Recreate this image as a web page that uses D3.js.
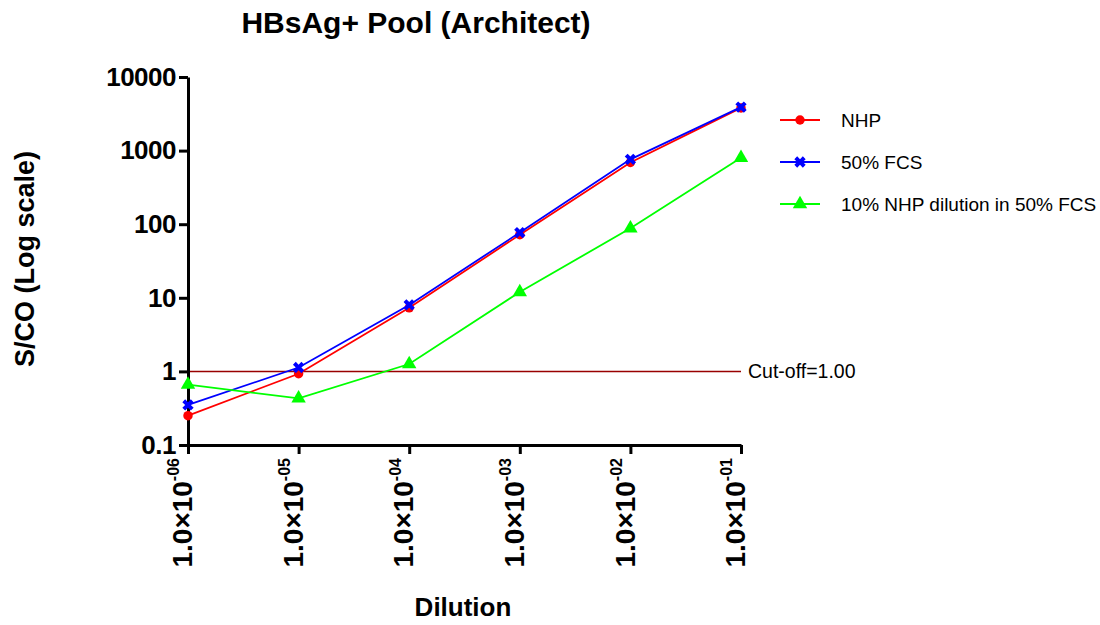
<!DOCTYPE html>
<html>
<head>
<meta charset="utf-8">
<script src="https://cdn.jsdelivr.net/npm/d3@7"></script>
<style>
  body { margin: 0; background: #fff; }
  text { font-family: Arial, "Liberation Sans", sans-serif; }
</style>
</head>
<body>
<svg id="chart"></svg>
<script>
// Dilutions on the x axis
const dilutions = [1e-6, 1e-5, 1e-4, 1e-3, 1e-2, 1e-1];
const dilutionExponents = ["-06", "-05", "-04", "-03", "-02", "-01"];

// S/CO values
const nhpValues = [0.25, 0.93, 7.3, 72, 690, 3800];
const fcsValues = [0.35, 1.13, 8.0, 77, 760, 3900];
const mixValues = [0.66, 0.43, 1.26, 12, 88, 800];

const seriesNames = ["NHP", "50% FCS", "10% NHP dilution in 50% FCS"];
const seriesColors = ["#ff0000", "#0000ff", "#00ff00"];

const yTicks = [0.1, 1, 10, 100, 1000, 10000];
const cutOff = 1.0;

const dims = {
  width: 1100,
  height: 625,
  left: 188,
  right: 741,
  top: 77,
  bottom: 445
};

const svg = d3.select("#chart")
    .attr("width", dims.width)
    .attr("height", dims.height);

const x = d3.scaleLog()
    .domain(d3.extent(dilutions))
    .range([dims.left, dims.right]);

const y = d3.scaleLog()
    .domain([0.1, 10000])
    .range([dims.bottom, dims.top]);

// Cut-off line
svg.append("line")
    .attr("x1", x(dilutions[0]))
    .attr("x2", x(dilutions[dilutions.length - 1]))
    .attr("y1", y(cutOff))
    .attr("y2", y(cutOff))
    .attr("stroke", "#990000")
    .attr("stroke-width", 1.5);

svg.append("text")
    .attr("x", x(dilutions[dilutions.length - 1]) + 7)
    .attr("y", y(cutOff))
    .attr("dy", "0.35em")
    .style("font-size", "19.5px")
    .text("Cut-off=" + cutOff.toFixed(2));

// y axis
const yAxis = svg.append("g")
    .attr("transform", `translate(${dims.left},0)`)
    .call(d3.axisLeft(y).tickValues(yTicks).tickFormat(d => String(d)).tickSize(9).tickSizeOuter(0));
yAxis.select(".domain").attr("stroke-width", 3);
yAxis.selectAll(".tick line").attr("stroke-width", 3);
yAxis.selectAll(".tick text")
    .attr("x", -12)
    .style("font-size", "26px")
    .style("font-weight", "bold")
    .style("letter-spacing", "-0.5px")
    .attr("fill", "#000");

// x axis
const xAxis = svg.append("g")
    .attr("transform", `translate(0,${dims.bottom})`)
    .call(d3.axisBottom(x).tickValues(dilutions).tickFormat("").tickSize(9).tickSizeOuter(0));
xAxis.select(".domain").attr("stroke-width", 3);
xAxis.selectAll(".tick line").attr("stroke-width", 3);
xAxis.selectAll(".tick").each(function(d, i) {
  const t = d3.select(this).append("text")
      .attr("transform", "rotate(-90)")
      .attr("x", -13)
      .attr("dy", "0.36em")
      .attr("text-anchor", "end")
      .attr("fill", "#000")
      .style("font-weight", "bold");
  t.append("tspan").style("font-size", "28px").text("1.0×10");
  t.append("tspan").style("font-size", "16px").attr("dy", "-0.8em").text(dilutionExponents[i]);
});

// series
const line = d3.line()
    .x((d, i) => x(dilutions[i]))
    .y(d => y(d));

const symbols = [
  d3.symbol().type(d3.symbolCircle).size(70),
  d3.symbol().type(d3.symbolCross).size(80),
  d3.symbol().type(d3.symbolTriangle).size(90)
];
const symbolRotate = [0, 45, 0];

[nhpValues, fcsValues, mixValues].forEach((vals, k) => {
  svg.append("path")
      .datum(vals)
      .attr("fill", "none")
      .attr("stroke", seriesColors[k])
      .attr("stroke-width", 1.8)
      .attr("d", line);
  svg.append("g").selectAll("path")
      .data(vals)
      .join("path")
      .attr("transform", (d, i) => `translate(${x(dilutions[i])},${y(d)}) rotate(${symbolRotate[k]})`)
      .attr("fill", seriesColors[k])
      .attr("d", symbols[k]);
});

// legend
const legendY = [120, 162, 204];
seriesNames.forEach((name, k) => {
  const g = svg.append("g").attr("transform", `translate(780,${legendY[k]})`);
  g.append("line")
      .attr("x1", 0).attr("x2", 40)
      .attr("stroke", seriesColors[k])
      .attr("stroke-width", 1.8);
  g.append("path")
      .attr("transform", `translate(20,0) rotate(${symbolRotate[k]})`)
      .attr("fill", seriesColors[k])
      .attr("d", symbols[k]);
  g.append("text")
      .attr("x", 61)
      .attr("dy", "0.35em")
      .style("font-size", "19px")
      .text(name);
});

// titles
svg.append("text")
    .attr("x", 416)
    .attr("y", 33)
    .attr("text-anchor", "middle")
    .style("font-size", "30px")
    .style("font-weight", "bold")
    .text("HBsAg+ Pool (Architect)");

svg.append("text")
    .attr("transform", `translate(34,259) rotate(-90)`)
    .attr("text-anchor", "middle")
    .style("font-size", "27px")
    .style("font-weight", "bold")
    .text("S/CO (Log scale)");

svg.append("text")
    .attr("x", 463)
    .attr("y", 616)
    .attr("text-anchor", "middle")
    .style("font-size", "26px")
    .style("font-weight", "bold")
    .text("Dilution");
</script>
</body>
</html>
